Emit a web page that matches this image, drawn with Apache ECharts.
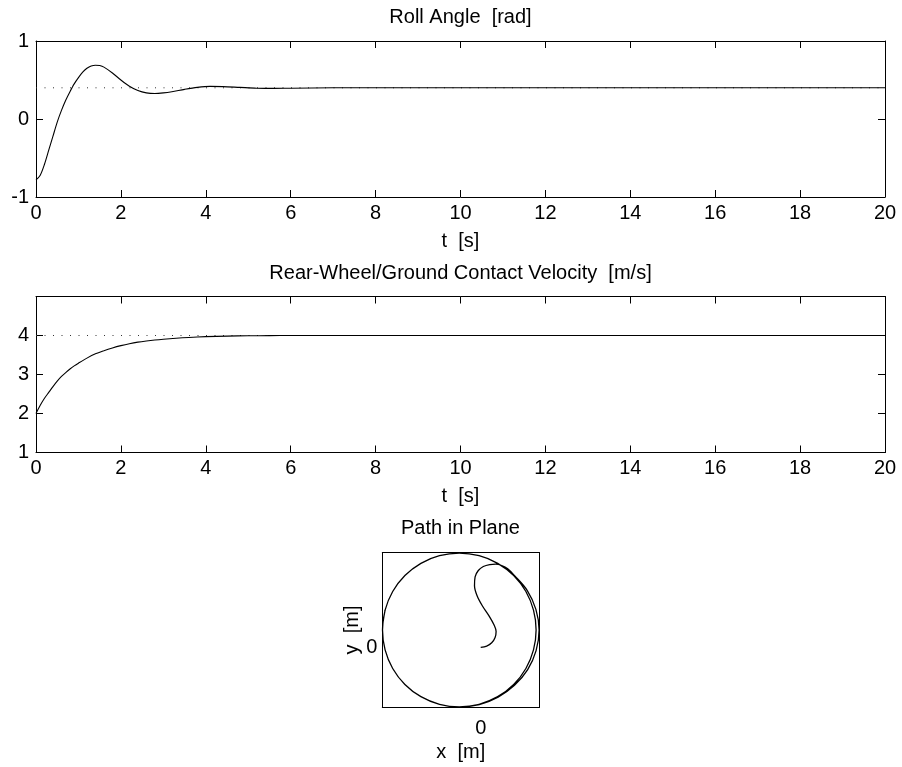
<!DOCTYPE html>
<html><head><meta charset="utf-8">
<script src="https://cdn.jsdelivr.net/npm/echarts@6/dist/echarts.min.js"></script>
<style>html,body{margin:0;padding:0;background:#fff}#c{width:902px;height:767px}</style>
</head><body><div id="c"></div><script>
// ---- data ----
const titles = ['Roll Angle  [rad]', 'Rear-Wheel/Ground Contact Velocity  [m/s]', 'Path in Plane'];
const timeRange = [0, 20];
const timeInterval = 2;
const rollRange = [-1, 1];
const velRange = [1, 5];
const rollT = [0, 0.1, 0.2, 0.3, 0.4, 0.5, 0.6, 0.7, 0.8, 0.9, 1.0, 1.1, 1.2, 1.3, 1.4, 1.5, 1.6, 1.8, 2.0, 2.2, 2.4, 2.6, 2.8, 3.0, 3.2, 3.5, 3.8, 4.1, 4.4, 4.8, 5.2, 5.6, 6.0, 7.0, 8, 10, 12, 14, 16, 18, 20];
const rollV = [-0.78, -0.72, -0.58, -0.40, -0.22, -0.04, 0.11, 0.24, 0.35, 0.45, 0.53, 0.60, 0.65, 0.68, 0.69, 0.685, 0.665, 0.59, 0.50, 0.42, 0.365, 0.335, 0.327, 0.335, 0.35, 0.38, 0.405, 0.418, 0.415, 0.405, 0.395, 0.392, 0.395, 0.40, 0.40, 0.40, 0.40, 0.40, 0.40, 0.40, 0.40];
const rollRef = 0.4;
const velT = [0, 0.1, 0.2, 0.3, 0.4, 0.5, 0.6, 0.7, 0.8, 0.9, 1.0, 1.2, 1.4, 1.6, 1.8, 2.0, 2.2, 2.4, 2.6, 2.8, 3.0, 3.3, 3.6, 4.0, 4.5, 5.0, 5.5, 6, 8, 10, 12, 14, 16, 18, 20];
const velV = [2.0, 2.21, 2.39, 2.54, 2.69, 2.83, 2.95, 3.05, 3.14, 3.22, 3.29, 3.42, 3.53, 3.61, 3.68, 3.74, 3.79, 3.83, 3.86, 3.885, 3.905, 3.93, 3.95, 3.97, 3.985, 3.993, 3.997, 4.0, 4.0, 4.0, 4.0, 4.0, 4.0, 4.0, 4.0];
const velRef = 4;
const pathXRange = [-4.92, 2.93];
const pathYRange = [-3.0, 4.74];
const pathTicks = [0];
const pathX = [0.00, 0.30, 0.55, 0.72, 0.77, 0.67, 0.40, 0.08, -0.18, -0.31, -0.28, -0.12, 0.13, 0.45, 0.75, 1.05, 1.35, 1.67, 2.33, 2.76, 2.92, 2.77, 2.35, 1.69, 0.87, -0.07, -1.07,
  -2.06, -2.99, -3.79, -4.40, -4.78, -4.91, -4.78, -4.40, -3.79, -2.99, -2.06, -1.07, -0.08, 0.85, 1.65, 2.26, 2.64, 2.77, 2.64, 2.26, 1.65, 0.85, -0.08, -1.07,
  -2.06, -2.99, -3.79, -4.40, -4.78, -4.91, -4.78, -4.40, -3.79, -2.99, -2.06, -1.07, -0.08, 0.85, 1.65, 2.26, 2.64, 2.77, 2.64, 2.26, 1.65, 0.85, -0.08, -1.07,
  -2.06, -2.99, -3.79, -4.40, -4.78, -4.91, -4.78];
const pathY = [0.00, 0.06, 0.23, 0.50, 0.80, 1.12, 1.60, 2.08, 2.58, 3.08, 3.52, 3.84, 4.04, 4.14, 4.16, 4.09, 3.93, 3.61, 2.84, 1.90, 0.87, -0.16, -1.11, -1.89, -2.48, -2.85, -2.97,
  -2.84, -2.46, -1.85, -1.05, -0.12, 0.87, 1.86, 2.79, 3.59, 4.20, 4.58, 4.71, 4.58, 4.20, 3.59, 2.79, 1.86, 0.87, -0.12, -1.05, -1.85, -2.46, -2.84, -2.97,
  -2.84, -2.46, -1.85, -1.05, -0.12, 0.87, 1.86, 2.79, 3.59, 4.20, 4.58, 4.71, 4.58, 4.20, 3.59, 2.79, 1.86, 0.87, -0.12, -1.05, -1.85, -2.46, -2.84, -2.97,
  -2.84, -2.46, -1.85, -1.05, -0.12, 0.87, 1.86];

// ---- chart ----
const FONT = '"Liberation Sans", Arial, Helvetica, sans-serif';
const FS = 20;
const txt = {color: '#000', fontFamily: FONT, fontSize: FS};

function axis(grid, position, range, opts) {
  return Object.assign({
    type: 'value', gridIndex: grid, position: position, min: range[0], max: range[1],
    axisLine: {show: true, onZero: false, lineStyle: {color: '#000', width: 1}},
    axisTick: {show: true, inside: true, length: 7, lineStyle: {color: '#000', width: 1}},
    axisLabel: {show: false},
    splitLine: {show: false}
  }, opts || {});
}
const xAxes = [
  axis(0, 'bottom', timeRange, {interval: timeInterval, axisLabel: Object.assign({show: true, margin: 6}, txt),
    name: 't  [s]', nameLocation: 'middle', nameGap: 34, nameTextStyle: txt}),
  axis(0, 'top', timeRange, {interval: timeInterval}),
  axis(1, 'bottom', timeRange, {interval: timeInterval, axisLabel: Object.assign({show: true, margin: 6}, txt),
    name: 't  [s]', nameLocation: 'middle', nameGap: 34, nameTextStyle: txt}),
  axis(1, 'top', timeRange, {interval: timeInterval}),
  axis(2, 'bottom', pathXRange, {axisTick: {show: false},
    axisLabel: Object.assign({show: true, margin: 11, customValues: pathTicks}, txt),
    name: 'x  [m]', nameLocation: 'middle', nameGap: 35, nameTextStyle: txt}),
  axis(2, 'top', pathXRange, {axisTick: {show: false}})
];
const yAxes = [
  axis(0, 'left', rollRange, {interval: 1, axisLabel: Object.assign({show: true, margin: 7}, txt)}),
  axis(0, 'right', rollRange, {interval: 1}),
  axis(1, 'left', velRange, {interval: 1, axisLabel: Object.assign({show: true, margin: 7, showMaxLabel: false}, txt)}),
  axis(1, 'right', velRange, {interval: 1}),
  axis(2, 'left', pathYRange, {axisTick: {show: false},
    axisLabel: Object.assign({show: true, margin: 5, customValues: pathTicks}, txt),
    name: 'y  [m]', nameLocation: 'middle', nameGap: 20, nameRotate: 90, nameTextStyle: txt}),
  axis(2, 'right', pathYRange, {axisTick: {show: false}})
];
const dotted = {color: '#333', width: 1, type: [1, 7.5]};
const series = [
  {type: 'line', xAxisIndex: 0, yAxisIndex: 0, data: timeRange.map(t => [t, rollRef]), symbol: 'none', lineStyle: dotted, silent: true},
  {type: 'line', xAxisIndex: 0, yAxisIndex: 0, data: rollT.map((t, i) => [t, rollV[i]]), symbol: 'none', smooth: 0.3, lineStyle: {color: '#000', width: 1.1}},
  {type: 'line', xAxisIndex: 2, yAxisIndex: 2, data: timeRange.map(t => [t, velRef]), symbol: 'none', lineStyle: dotted, silent: true},
  {type: 'line', xAxisIndex: 2, yAxisIndex: 2, data: velT.map((t, i) => [t, velV[i]]), symbol: 'none', smooth: 0.3, lineStyle: {color: '#000', width: 1.1}},
  {type: 'line', xAxisIndex: 4, yAxisIndex: 4, data: pathX.map((x, i) => [x, pathY[i]]), symbol: 'none', smooth: 0.35, lineStyle: {color: '#000', width: 1.3}}
];
const titleTops = [7, 263.5, 518.5];
const chart = echarts.init(document.getElementById('c'), null, {renderer: 'canvas'});
chart.setOption({
  animation: false,
  backgroundColor: '#fff',
  title: titles.map((t, i) => ({text: t, left: 460.5, top: titleTops[i], textAlign: 'center', padding: 0,
    textStyle: Object.assign({fontWeight: 'normal'}, txt)})),
  grid: [
    {left: 36, top: 41, width: 849, height: 156},
    {left: 36, top: 296.5, width: 849, height: 156},
    {left: 382.3, top: 552.5, width: 157, height: 155}
  ],
  xAxis: xAxes,
  yAxis: yAxes,
  series: series
});
</script></body></html>
